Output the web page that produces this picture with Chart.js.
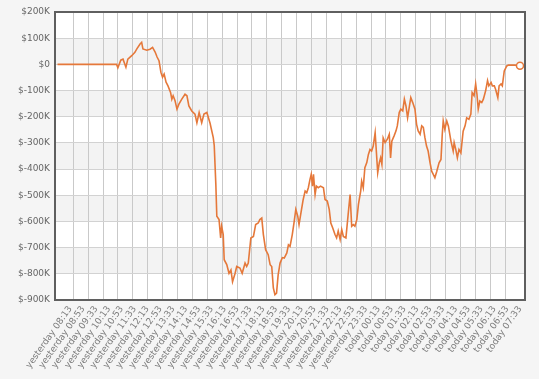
<!DOCTYPE html>
<html>
<head>
<meta charset="utf-8">
<script src="https://cdn.jsdelivr.net/npm/chart.js@4.4.1/dist/chart.umd.min.js"></script>
<style>
  html, body { margin: 0; padding: 0; background: #f5f5f5; }
  #wrap { width: 539px; height: 379px; }
</style>
</head>
<body>
<div id="wrap"><canvas id="chart" width="539" height="379"></canvas></div>
<script>
// tick labels along the time axis
const tickLabels = [
    "yesterday 08:13", "yesterday 08:53", "yesterday 09:33", "yesterday 10:13",
    "yesterday 10:53", "yesterday 11:33", "yesterday 12:13", "yesterday 12:53",
    "yesterday 13:33", "yesterday 14:13", "yesterday 14:53", "yesterday 15:33",
    "yesterday 16:13", "yesterday 16:53", "yesterday 17:33", "yesterday 18:13",
    "yesterday 18:53", "yesterday 19:33", "yesterday 20:13", "yesterday 20:53",
    "yesterday 21:33", "yesterday 22:13", "yesterday 22:53", "yesterday 23:33",
    "today 00:13", "today 00:53", "today 01:33", "today 02:13",
    "today 02:53", "today 03:33", "today 04:13", "today 04:53",
    "today 05:33", "today 06:13", "today 06:53", "today 07:33"
];

// minutes since yesterday 00:00
const times = [
    453, 637, 641, 650, 657, 666, 672, 684, 694, 700, 710, 715, 719, 731, 741, 749,
    757, 763, 769, 775, 780, 785, 791, 797, 805, 809, 813, 819, 825, 831, 840, 850,
    856, 862, 871, 881, 887, 894, 902, 909, 918, 928, 938, 941, 946, 949, 956, 961,
    964, 969, 972, 980, 987, 993, 998, 1006, 1011, 1021, 1028, 1037, 1042, 1047, 1055, 1063,
    1070, 1078, 1083, 1089, 1094, 1101, 1109, 1115, 1120, 1125, 1130, 1135, 1140, 1146, 1153, 1159,
    1167, 1172, 1177, 1184, 1190, 1195, 1201, 1205, 1211, 1218, 1224, 1229, 1234, 1239, 1243, 1247,
    1250, 1255, 1259, 1265, 1272, 1281, 1286, 1293, 1299, 1304, 1310, 1317, 1322, 1327, 1333, 1338,
    1343, 1351, 1358, 1364, 1369, 1374, 1379, 1385, 1390, 1397, 1400, 1405, 1410, 1416, 1421, 1426,
    1431, 1436, 1442, 1445, 1450, 1455, 1459, 1463, 1467, 1473, 1480, 1486, 1490, 1494, 1501, 1507,
    1511, 1517, 1522, 1528, 1533, 1538, 1543, 1548, 1553, 1559, 1566, 1571, 1576, 1582, 1587, 1592,
    1597, 1602, 1607, 1613, 1618, 1623, 1628, 1634, 1641, 1647, 1651, 1654, 1659, 1665, 1670, 1678,
    1685, 1688, 1693, 1698, 1703, 1709, 1716, 1722, 1727, 1734, 1740, 1744, 1750, 1755, 1759, 1763,
    1768, 1774, 1779, 1786, 1792, 1796, 1803, 1807, 1813, 1817, 1824, 1828, 1834, 1838, 1844, 1852,
    1857, 1877, 1893
];

// P&L in $K
const pnl = [
    0, 0, -13, 16, 20, -11, 20, 33, 46, 59, 78, 84, 59, 54, 58, 65,
    47, 28, 14, -30, -49, -37, -68, -82, -107, -133, -120, -139, -171, -152, -133, -114,
    -120, -159, -178, -190, -223, -184, -223, -190, -184, -225, -280, -310, -459, -580, -593, -663,
    -618, -650, -746, -765, -798, -785, -830, -798, -772, -778, -798, -759, -772, -759, -663, -657,
    -612, -606, -593, -587, -650, -708, -727, -765, -772, -854, -880, -874, -804, -759, -738, -740,
    -720, -689, -695, -650, -600, -554, -580, -612, -567, -516, -484, -490, -471, -440, -420, -465,
    -420, -497, -465, -471, -465, -471, -516, -522, -554, -606, -625, -650, -663, -637, -669, -631,
    -657, -663, -573, -497, -618, -612, -618, -593, -535, -484, -446, -471, -395, -375, -344, -325,
    -331, -312, -261, -318, -414, -375, -357, -382, -281, -299, -286, -267, -357, -293, -273, -254,
    -235, -184, -171, -178, -133, -159, -204, -165, -127, -146, -171, -229, -254, -267, -235, -241,
    -280, -312, -331, -376, -408, -420, -433, -408, -376, -363, -267, -216, -248, -216, -235, -293,
    -331, -299, -325, -357, -325, -338, -255, -235, -204, -210, -190, -108, -120, -75, -114, -171,
    -140, -146, -133, -101, -62, -82, -69, -82, -82, -95, -127, -82, -75, -82, -25, -6,
    -3, -3, -5
];

const yTicks = [-900, -800, -700, -600, -500, -400, -300, -200, -100, 0, 100, 200];

function toMinutes(label) {
    const [day, hm] = label.split(" ");
    const [h, m] = hm.split(":").map(Number);
    return (day === "today" ? 1440 : 0) + h * 60 + m;
}
const tickMinutes = tickLabels.map(toMinutes);

const X_MIN = 445.2, X_MAX = 1908.6;
const gridLines = Array.from({ length: 30 }, (_, k) => 502.2 + 46.36 * k);

const labelFont = { family: "'DejaVu Sans', Verdana, sans-serif", size: 9 };

// white plot area with alternating grey bands
const bandsPlugin = {
    id: "bands",
    beforeDraw(chart) {
        const { ctx, chartArea: a, scales: { y } } = chart;
        ctx.save();
        ctx.fillStyle = "#ffffff";
        ctx.fillRect(a.left, a.top, a.right - a.left, a.bottom - a.top);
        ctx.fillStyle = "#f3f3f3";
        for (let v = 100; v > -900; v -= 200) {
            const top = y.getPixelForValue(v);
            const bot = y.getPixelForValue(v - 100);
            ctx.fillRect(a.left, top, a.right - a.left, bot - top);
        }
        ctx.restore();
    },
    afterDraw(chart) {
        const { ctx, chartArea: a } = chart;
        ctx.save();
        ctx.strokeStyle = "#5f5f5f";
        ctx.lineWidth = 2;
        ctx.strokeRect(a.left, a.top, a.right - a.left, a.bottom - a.top);
        ctx.restore();
    }
};

const points = times.map((t, i) => ({ x: t, y: pnl[i] }));

new Chart(document.getElementById("chart"), {
    type: "line",
    data: {
        datasets: [{
            data: points,
            borderColor: "#e5783a",
            borderWidth: 1.6,
            tension: 0,
            fill: false,
            pointRadius: (c) => (c.dataIndex === points.length - 1 ? 3.5 : 0),
            pointHoverRadius: 0,
            pointBackgroundColor: "#ffffff",
            pointBorderColor: "#e5783a",
            pointBorderWidth: 1.5
        }]
    },
    options: {
        responsive: false,
        animation: false,
        events: [],
        layout: { padding: { top: 12, right: 14, left: 0, bottom: 0 } },
        plugins: { legend: { display: false }, tooltip: { enabled: false } },
        scales: {
            x: {
                type: "linear",
                min: X_MIN,
                max: X_MAX,
                afterBuildTicks: (ax) => { ax.ticks = tickMinutes.map((v) => ({ value: v })); },
                afterFit: (ax) => { ax.height = 79; },
                grid: { display: false, drawTicks: false },
                border: { display: false },
                ticks: {
                    autoSkip: false,
                    minRotation: 55,
                    maxRotation: 55,
                    padding: 4,
                    color: "#7a7a7a",
                    font: labelFont,
                    callback: (v, i) => tickLabels[i]
                }
            },
            xg: {
                type: "linear",
                position: "bottom",
                min: X_MIN,
                max: X_MAX,
                afterBuildTicks: (ax) => { ax.ticks = gridLines.map((v) => ({ value: v })); },
                afterFit: (ax) => { ax.height = 0; },
                grid: { color: "#c9c9c9", drawTicks: false },
                border: { display: false },
                ticks: { display: false }
            },
            y: {
                min: -900,
                max: 200,
                afterBuildTicks: (ax) => { ax.ticks = yTicks.map((v) => ({ value: v })); },
                afterFit: (ax) => { ax.width = 55; },
                grid: { color: "#d2d2d2", drawTicks: false },
                border: { display: false },
                ticks: {
                    padding: 5,
                    color: "#666666",
                    font: labelFont,
                    callback: (v) => (v === 0 ? "$0" : "$" + v + "K")
                }
            }
        }
    },
    plugins: [bandsPlugin]
});
</script>
</body>
</html>
